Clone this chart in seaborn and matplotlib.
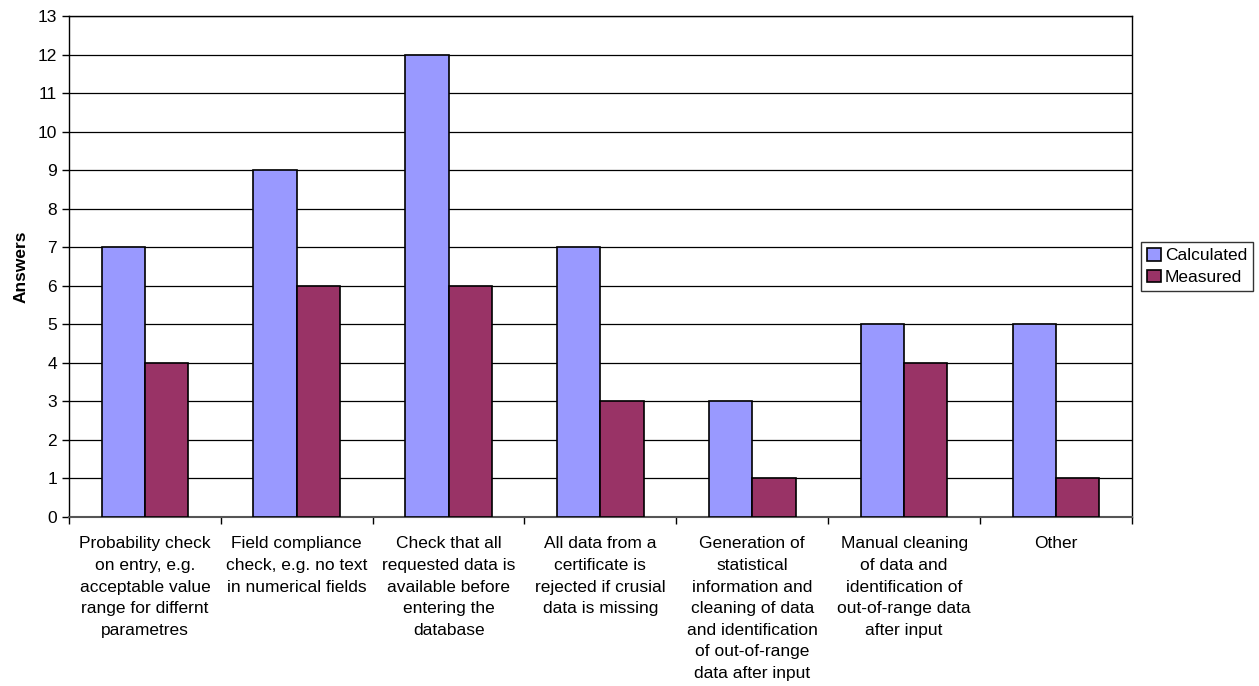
import pandas as pd
import numpy as np
import matplotlib.pyplot as plt
import seaborn as sns

categories = [
    "Probability check\non entry, e.g.\nacceptable value\nrange for differnt\nparametres",
    "Field compliance\ncheck, e.g. no text\nin numerical fields",
    "Check that all\nrequested data is\navailable before\nentering the\ndatabase",
    "All data from a\ncertificate is\nrejected if crusial\ndata is missing",
    "Generation of\nstatistical\ninformation and\ncleaning of data\nand identification\nof out-of-range\ndata after input",
    "Manual cleaning\nof data and\nidentification of\nout-of-range data\nafter input",
    "Other",
]
calculated = [7, 9, 12, 7, 3, 5, 5]
measured = [4, 6, 6, 3, 1, 4, 1]

df = pd.DataFrame({
    "cat": categories * 2,
    "series": ["Calculated"] * 7 + ["Measured"] * 7,
    "value": calculated + measured,
})

sns.set_style("white")
plt.rcParams['font.family'] = ['Liberation Sans', 'DejaVu Sans']
plt.rcParams['text.color'] = 'black'
plt.rcParams['xtick.color'] = 'black'
plt.rcParams['ytick.color'] = 'black'
plt.rcParams['axes.labelcolor'] = 'black'

fs = 12.5

fig = plt.figure(figsize=(12.59, 6.86), dpi=100)
ax = fig.add_axes([0.0548, 0.2464, 0.8442, 0.7303])

sns.barplot(data=df, x="cat", y="value", hue="series", order=categories,
            palette={"Calculated": "#9999FF", "Measured": "#993366"},
            width=0.57, gap=0, edgecolor="black", linewidth=1.2,
            ax=ax, zorder=3, errorbar=None, saturation=1)

ax.set_ylim(0, 13)
ax.set_xlim(-0.5, 6.5)
ax.set_yticks(range(0, 14))
ax.yaxis.grid(True, color="black", linewidth=0.9, zorder=0)
ax.set_axisbelow(True)

ax.set_xticks(np.arange(-0.5, 7, 1), minor=False)
ax.set_xticklabels([])
ax.set_xticks(range(7), minor=True)
ax.set_xticklabels(categories, minor=True, fontsize=fs, linespacing=1.55)
ax.tick_params(axis="x", which="minor", length=0, pad=14)
ax.tick_params(axis="x", which="major", direction="out", length=5, width=1, color="black", bottom=True)
ax.tick_params(axis="y", direction="out", length=5, width=1, color="black", left=True, labelsize=fs)

for s in ax.spines.values():
    s.set_color("black")
    s.set_linewidth(1)
ax.spines["bottom"].set_color("#555555")
ax.spines["bottom"].set_linewidth(1.5)

ax.set_xlabel("")
ax.set_ylabel("Answers", fontsize=fs, fontweight="bold", labelpad=7)

leg = ax.legend(loc="center left", bbox_to_anchor=(1.009, 0.5), frameon=True,
                fontsize=fs, handlelength=0.75, handleheight=0.75, handletextpad=0.25,
                borderpad=0.35, labelspacing=0.35, fancybox=False, borderaxespad=0)
leg.get_frame().set_edgecolor("black")
leg.get_frame().set_linewidth(1)

fig.savefig("out.png", dpi=100)
